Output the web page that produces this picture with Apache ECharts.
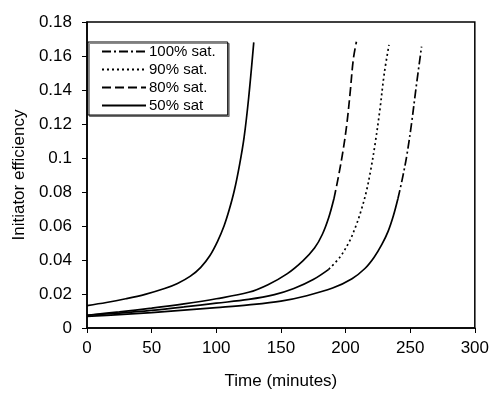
<!DOCTYPE html>
<html>
<head>
<meta charset="utf-8">
<script src="https://cdn.jsdelivr.net/npm/echarts@6/dist/echarts.min.js"></script>
<style>
html,body{margin:0;padding:0;background:#fff;}
#chart{width:492px;height:395px;}
</style>
</head>
<body>
<div id="chart"></div>
<script>
// ---- data ----
const xTicks = [0, 50, 100, 150, 200, 250, 300];
const yTicks = [0, 0.02, 0.04, 0.06, 0.08, 0.1, 0.12, 0.14, 0.16, 0.18];
const seriesNames = ['100% sat.', '90% sat.', '80% sat.', '50% sat'];

const time100 = [0,25,50,75,100,125,150,170,190,205,215,222,228,233,237,240.5,244,247.5,251,254.5,258.8];
const eff100  = [0.0068,0.0079,0.0091,0.0105,0.012,0.0136,0.0158,0.019,0.0235,0.029,0.035,0.0415,0.049,0.057,0.066,0.076,0.088,0.102,0.12,0.141,0.1655];

const time90 = [0,25,50,75,100,125,145,160,175,187,196,203,208,212,216,219.5,223,226.5,230,233.6];
const eff90  = [0.0075,0.0088,0.0104,0.0124,0.0146,0.0168,0.0196,0.0232,0.0285,0.0345,0.042,0.051,0.060,0.069,0.080,0.093,0.109,0.128,0.150,0.1665];

const time80 = [0,25,50,75,100,125,140,155,167,176,182,187,191,194.5,198,201,203.5,206,208.4];
const eff80  = [0.0075,0.0095,0.0117,0.0142,0.0172,0.021,0.0255,0.032,0.0395,0.047,0.055,0.065,0.076,0.089,0.104,0.12,0.138,0.158,0.1684];

const time50 = [0,15,30,45,60,70,80,88,95,101,106,110,114,118,121.5,125,129];
const eff50  = [0.0132,0.015,0.0172,0.0198,0.0232,0.0262,0.0305,0.0357,0.0425,0.051,0.060,0.0695,0.081,0.096,0.112,0.135,0.168];

// ---- build ----
function pairs(t, v) { return t.map((x, i) => [x, v[i]]); }
// lower (flat) part of the curve looks solid in the original; steep part shows the dash pattern
function split(t, v, thr) {
  const all = pairs(t, v);
  let k = all.findIndex(p => p[1] >= thr);
  if (k < 1) k = 1;
  return { low: all.slice(0, k + 1), high: all.slice(k) };
}
const s100 = split(time100, eff100, 0.076);
const s90 = split(time90, eff90, 0.0345);
const s80 = split(time80, eff80, 0.076);

const FONT = 'Liberation Sans, Arial, sans-serif';
const base = { type: 'line', showSymbol: false, symbol: 'none', smooth: 0.35, silent: true, animation: false };
function ls(type, w) { return { color: '#000', width: w || 1.7, type: type }; }

const series = [
  Object.assign({}, base, { name: seriesNames[0], data: s100.high, lineStyle: ls([9, 3, 2, 3]) }),
  Object.assign({}, base, { name: seriesNames[1], data: s90.high, lineStyle: ls([2, 3]) }),
  Object.assign({}, base, { name: seriesNames[2], data: s80.high, lineStyle: ls([9, 4]) }),
  Object.assign({}, base, { name: seriesNames[3], data: pairs(time50, eff50), lineStyle: ls('solid') }),
  Object.assign({}, base, { name: 'low100', data: s100.low, lineStyle: ls('solid') }),
  Object.assign({}, base, { name: 'low90', data: s90.low, lineStyle: ls('solid') }),
  Object.assign({}, base, { name: 'low80', data: s80.low, lineStyle: ls('solid') })
];

const chart = echarts.init(document.getElementById('chart'), null, { renderer: 'canvas' });
chart.setOption({
  animation: false,
  backgroundColor: '#fff',
  grid: { left: 87, right: 16, top: 22, bottom: 67, show: true, borderColor: '#000', borderWidth: 1.5, backgroundColor: 'transparent' },
  legend: {
    data: seriesNames,
    orient: 'vertical',
    left: 88, top: 42,
    padding: [2, 12, 2, 13],
    itemGap: 3,
    itemWidth: 44,
    itemHeight: 13,
    backgroundColor: '#fff',
    borderColor: '#000',
    borderWidth: 1,
    shadowColor: 'rgba(0,0,0,0.45)', shadowOffsetX: 1.5, shadowOffsetY: 1.5, shadowBlur: 0,
    itemStyle: { opacity: 0 },
    textStyle: { fontFamily: FONT, fontSize: 15, color: '#000', padding: [0, 0, 0, -2] },
    selectedMode: false
  },
  xAxis: {
    type: 'value', min: 0, max: 300, interval: 50,
    name: 'Time (minutes)', nameLocation: 'middle', nameGap: 45,
    nameTextStyle: { fontFamily: FONT, fontSize: 17, color: '#000' },
    axisLine: { show: true, onZero: false, lineStyle: { color: '#000', width: 1.5 } },
    axisTick: { show: true, inside: false, length: 5, lineStyle: { color: '#000', width: 1 } },
    axisLabel: { fontFamily: FONT, fontSize: 17, color: '#000', margin: 12, formatter: v => xTicks.includes(v) ? String(v) : '' },
    splitLine: { show: false }
  },
  yAxis: {
    type: 'value', min: 0, max: 0.18, interval: 0.02,
    name: 'Initiator efficiency', nameLocation: 'middle', nameGap: 54, nameRotate: 90,
    nameTextStyle: { fontFamily: FONT, fontSize: 17, color: '#000' },
    axisLine: { show: true, lineStyle: { color: '#000', width: 1.5 } },
    axisTick: { show: true, inside: false, length: 5, lineStyle: { color: '#000', width: 1 } },
    axisLabel: { fontFamily: FONT, fontSize: 17, color: '#000', margin: 15,
      formatter: v => { const t = yTicks.find(y => Math.abs(y - v) < 1e-9); return t === undefined ? '' : String(t); } },
    splitLine: { show: false }
  },
  series: series
});
</script>
</body>
</html>
